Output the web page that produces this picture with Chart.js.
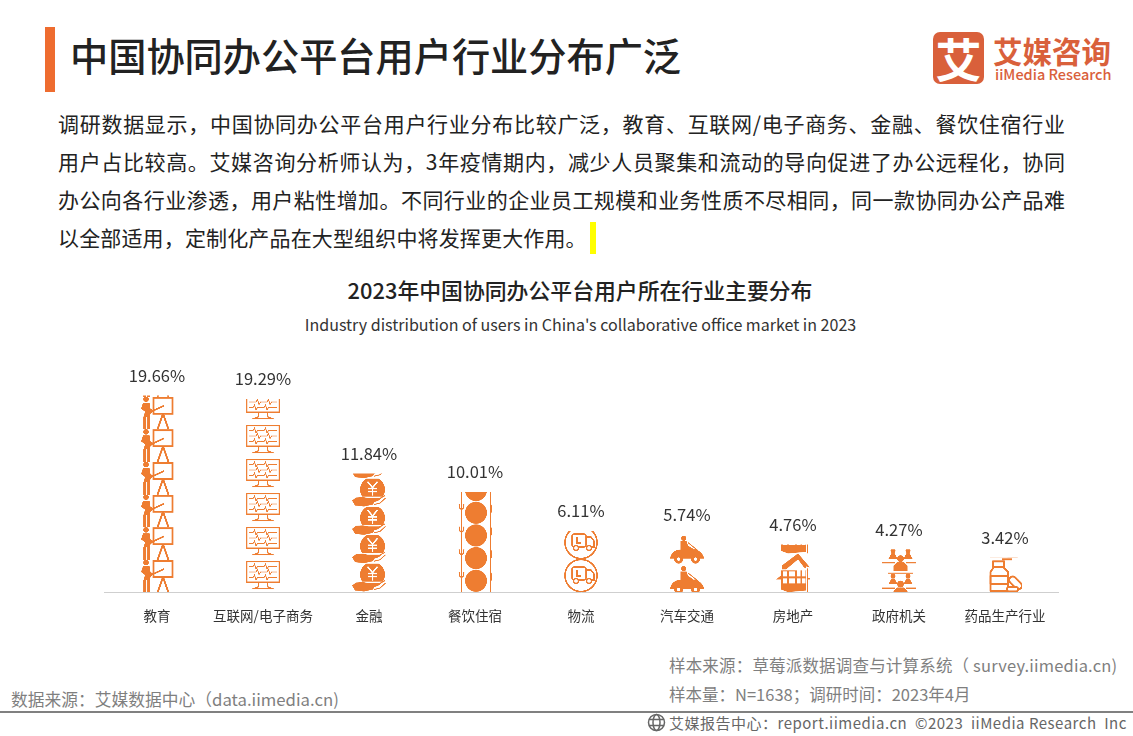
<!DOCTYPE html>
<html>
<head>
<meta charset="utf-8">
<title>中国协同办公平台用户行业分布广泛</title>
<script src="https://cdn.jsdelivr.net/npm/chart.js@4"></script>
<style>
  html, body { margin: 0; padding: 0; background: #fff; }
  body { width: 1133px; height: 736px; position: relative; overflow: hidden; font-family: "Noto Sans CJK SC", sans-serif; }
  .abs { position: absolute; white-space: nowrap; }
  .para { position: absolute; left: 58px; width: 1007px; font-size: 21px; line-height: 30px; color: #222; text-align: justify; text-align-last: justify; white-space: nowrap; }
  .foot { position: absolute; white-space: nowrap; color: #7f7f7f; font-size: 16px; line-height: 22px; }
  #chartBox { position: absolute; left: 0; top: 340px; width: 1133px; height: 300px; }
</style>
</head>
<body>
<div class="abs" style="left:70px;top:30px;font-size:38.2px;line-height:50px;font-weight:500;color:#222">中国协同办公平台用户行业分布广泛</div>
<div class="abs" style="left:45px;top:27px;width:10px;height:65px;background:#EE6C2F"></div>

<div class="abs" style="left:933px;top:32px;width:51px;height:52px;border-radius:7px;background:#D9603B;color:#fff;font-size:46px;line-height:50px;font-weight:700;text-align:center">艾</div>
<div class="abs" style="left:993px;top:30px;font-size:29.5px;line-height:40px;font-weight:700;color:#D9603B">艾媒咨询</div>
<div class="abs" style="left:995px;top:64px;font-size:14.5px;line-height:20px;font-weight:500;color:#D9603B">iiMedia Research</div>

<div class="para" style="top:108px">调研数据显示，中国协同办公平台用户行业分布比较广泛，教育、互联网/电子商务、金融、餐饮住宿行业</div>
<div class="para" style="top:146px">用户占比较高。艾媒咨询分析师认为，3年疫情期内，减少人员聚集和流动的导向促进了办公远程化，协同</div>
<div class="para" style="top:184px">办公向各行业渗透，用户粘性增加。不同行业的企业员工规模和业务性质不尽相同，同一款协同办公产品难</div>
<div class="para" style="top:222px;text-align-last:left;letter-spacing:0.15px">以全部适用，定制化产品在大型组织中将发挥更大作用。</div>
<div class="abs" style="left:590px;top:222px;width:6px;height:32px;background:#FFFF00"></div>

<div class="abs" style="left:0;width:1160px;top:275px;text-align:center;font-size:21.85px;line-height:30px;font-weight:500;color:#222">2023年中国协同办公平台用户所在行业主要分布</div>
<div class="abs" style="left:0;width:1161px;top:312px;text-align:center;font-size:16.05px;line-height:24px;color:#333">Industry distribution of users in China's collaborative office market in 2023</div>

<div id="chartBox"><canvas id="chart"></canvas></div>

<div class="foot" style="left:669px;top:654px;font-size:16.5px;letter-spacing:0.18px">样本来源：草莓派数据调查与计算系统（ survey.iimedia.cn)</div>
<div class="foot" style="left:669px;top:683px;font-size:16.5px">样本量：N=1638；调研时间：2023年4月</div>
<div class="foot" style="left:11px;top:688px;font-size:16.75px">数据来源：艾媒数据中心（data.iimedia.cn)</div>
<div class="abs" style="left:0;top:711px;width:1133px;height:2px;background:#808080"></div>
<svg class="abs" style="left:647px;top:713px" width="19" height="19" viewBox="0 0 19 19" fill="none" stroke="#666" stroke-width="1.5">
  <circle cx="9.5" cy="9.5" r="8"/><ellipse cx="9.5" cy="9.5" rx="3.5" ry="8"/><path d="M2 6.5h15M2 12.5h15"/>
</svg>
<div class="foot" style="left:669px;top:712px;font-size:15px;color:#666;letter-spacing:0.5px">艾媒报告中心：report.iimedia.cn&nbsp;&nbsp;©2023&nbsp;&nbsp;iiMedia Research&nbsp;&nbsp;Inc</div>

<script>
const categories = ['教育', '互联网/电子商务', '金融', '餐饮住宿', '物流', '汽车交通', '房地产', '政府机关', '药品生产行业'];
const shares = [19.66, 19.29, 11.84, 10.01, 6.11, 5.74, 4.76, 4.27, 3.42];
const iconNames = ['teach', 'monitor', 'money', 'dining', 'truck', 'car', 'house', 'office', 'medicine'];

const ORANGE = '#EE7D31';
const BAR_W = 34;

function line(c, pts) {
  c.beginPath();
  pts.forEach((p, i) => i ? c.lineTo(p[0], p[1]) : c.moveTo(p[0], p[1]));
  c.stroke();
}
function poly(c, pts) {
  c.beginPath();
  pts.forEach((p, i) => i ? c.lineTo(p[0], p[1]) : c.moveTo(p[0], p[1]));
  c.closePath();
  c.fill();
}
function dot(c, x, y, r) {
  c.beginPath();
  c.arc(x, y, r, 0, Math.PI * 2);
  c.fill();
}

// one tile of each pictogram: h = repeat height, up = how far its top sits above the axis
const icons = {
  teach: { h: 32.7, up: 32, draw(c) {
    dot(c, 6, 2.5, 2.8);
    c.lineWidth = 1.9;
    c.strokeRect(13.5, 1, 19, 16);
    line(c, [[23, 17], [17.5, 32.7]]);
    line(c, [[23, 17], [28.5, 32.7]]);
    c.lineWidth = 1.6;
    line(c, [[11, 15], [24, 9]]);
    poly(c, [[3, 6], [9.5, 6], [10.5, 12], [14, 14], [10.5, 17], [10, 20], [3.5, 20], [5, 15], [1, 12]]);
    c.fillRect(3.2, 20, 3, 12.7);
    c.fillRect(7.2, 20, 3, 12.7);
  } },
  monitor: { h: 34, up: 31, draw(c) {
    c.lineWidth = 1.2;
    c.strokeRect(0.8, 0.6, 32.4, 20.5);
    line(c, [[13, 21], [12, 26], [8, 27.5], [26, 27.5], [22, 26], [21, 21]]);
    c.lineWidth = 0.9;
    [5.5, 11, 16.5].forEach((y, row) => {
      const s = row % 2 ? 3 : 0;
      line(c, [[3, y], [7 + s, y], [8.5 + s, y - 2.5], [10 + s, y + 2.5], [11.5 + s, y], [18 + s, y], [19.5 + s, y - 2.5], [21 + s, y + 2.5], [22.5 + s, y], [31, y]]);
    });
  } },
  money: { h: 28.4, up: 28.4, draw(c) {
    dot(c, 20.5, 11, 12.5);
    c.fillStyle = '#fff';
    c.fillRect(0, 18, 34, 1.5);
    c.strokeStyle = '#fff';
    c.lineWidth = 1.5;
    line(c, [[15.5, 3], [20.5, 9], [25.5, 3]]);
    line(c, [[20.5, 9], [20.5, 17]]);
    line(c, [[16, 10], [25, 10]]);
    line(c, [[16, 13], [25, 13]]);
    c.fillStyle = ORANGE;
    c.strokeStyle = ORANGE;
    poly(c, [[0, 22], [4, 19], [11, 18.5], [18, 20], [23, 22], [21, 26], [12, 28], [3, 27]]);
    c.lineWidth = 1;
    line(c, [[23, 22.5], [33, 17]]);
    line(c, [[22, 26], [28, 24.5], [33.5, 19.5]]);
  } },
  dining: { h: 22.5, up: 22.5, draw(c) {
    dot(c, 18, 11.2, 11);
    c.lineWidth = 1;
    line(c, [[3.5, 0], [3.5, 22.5]]);
    c.lineWidth = 1.2;
    line(c, [[1.2, 2.5], [1.6, 6.5], [3.5, 8], [5.4, 6.5], [5.8, 2.5]]);
    line(c, [[3.5, 2.5], [3.5, 7]]);
    c.fillRect(32, 0, 1.2, 22.5);
    poly(c, [[33, 2], [34, 5], [34, 11], [33, 11]]);
  } },
  truck: { h: 33, up: 33, draw(c) {
    c.lineWidth = 1.6;
    c.beginPath();
    c.arc(17, 16.5, 16, 0, Math.PI * 2);
    c.stroke();
    c.lineWidth = 1.4;
    c.beginPath();
    c.roundRect(8, 8, 14, 13, 2);
    c.stroke();
    line(c, [[22, 11], [27, 11], [30, 15], [30, 21], [22, 21]]);
    line(c, [[13, 11], [13, 17], [17, 17]]);
    c.fillStyle = '#fff';
    [12, 25].forEach(x => {
      c.beginPath();
      c.arc(x, 22, 2.4, 0, Math.PI * 2);
      c.fill();
      c.stroke();
    });
  } },
  car: { h: 30.4, up: 26, draw(c) {
    dot(c, 13.7, 2.6, 2.6);
    poly(c, [[10.5, 5.5], [16.5, 5.5], [18, 10], [23, 13], [23, 15], [10.5, 15]]);
    c.lineWidth = 1;
    line(c, [[18, 7], [28, 15]]);
    c.beginPath();
    c.moveTo(0, 23);
    c.quadraticCurveTo(1, 16, 8, 14);
    c.lineTo(26, 13.5);
    c.quadraticCurveTo(33, 17, 34, 22.5);
    c.lineTo(34, 23);
    c.closePath();
    c.fill();
    [8.6, 25.5].forEach(x => {
      dot(c, x, 23.5, 4.5);
      c.fillStyle = '#fff';
      dot(c, x, 23.5, 1.7);
      c.fillStyle = ORANGE;
    });
  } },
  house: { h: 38.6, up: 38.6, draw(c) {
    // roof
    poly(c, [[22, 0], [34, 14], [30, 13], [30, 15], [28, 14], [22, 6], [10, 16], [6, 16], [6, 12]]);
    // walls
    c.fillRect(5, 17, 28, 15);
    poly(c, [[0, 26], [5, 22], [5, 26]]);
    poly(c, [[5, 31], [30, 31], [30, 37], [12, 38.6], [5, 36]]);
    c.fillStyle = '#fff';
    [[7, 18, 4, 5], [13, 18, 6, 5], [21, 15, 3.5, 8], [26, 15, 3.5, 8], [7, 25, 4, 5], [13, 25, 6, 5], [21, 25, 3.5, 5], [26, 25, 3.5, 5], [30, 17, 3, 21]].forEach(r => c.fillRect(r[0], r[1], r[2], r[3]));
    c.fillStyle = ORANGE;
    c.fillRect(31, 15, 1, 23.6);
    poly(c, [[33, 24], [35, 26], [31, 26]]);
  } },
  office: { h: 25.3, up: 21, draw(c) {
    c.fillRect(6, 1.6, 25, 1);
    [11, 26].forEach(x => {
      dot(c, x, 5, 2.5);
      poly(c, [[x - 1.5, 7.5], [x + 1.5, 7.5], [x + 4.5, 13], [x - 4.5, 13]]);
    });
    dot(c, 18.5, 13, 3.4);
    poly(c, [[15, 16.5], [22, 16.5], [25.5, 20], [25.5, 25.3], [11.5, 25.3], [11.5, 20]]);
    c.fillRect(0, 16.5, 13, 1.2);
    c.fillRect(24, 16.5, 10, 1.2);
  } },
  medicine: { h: 34.2, up: 34.2, draw(c) {
    c.lineWidth = 1.9;
    c.lineJoin = 'round';
    c.strokeRect(5, 3.5, 11, 5.5);
    line(c, [[14, 1.5], [24, 1.5]]);
    c.beginPath();
    c.moveTo(6, 9);
    c.lineTo(2.5, 14);
    c.lineTo(2.5, 33);
    c.lineTo(20, 33);
    c.lineTo(20, 14);
    c.lineTo(15, 9);
    c.stroke();
    c.strokeRect(2.5, 18, 17.5, 8);
    c.save();
    c.translate(27.5, 25);
    c.rotate(Math.PI / 4);
    c.beginPath();
    c.roundRect(-7.5, -3.5, 15, 7, 3.5);
    c.stroke();
    c.restore();
    c.beginPath();
    c.roundRect(19, 29, 11, 4.5, 2);
    c.fillStyle = '#fff';
    c.fill();
    c.stroke();
  } }
};

const TILE_SCALE = 3;
function tilePattern(chart, name, left, base) {
  const icon = icons[name];
  const off = document.createElement('canvas');
  off.width = BAR_W * TILE_SCALE;
  off.height = Math.round(icon.h * TILE_SCALE);
  const c = off.getContext('2d');
  c.scale(TILE_SCALE, off.height / icon.h);
  c.fillStyle = ORANGE;
  c.strokeStyle = ORANGE;
  icon.draw(c);
  const pattern = chart.ctx.createPattern(off, 'repeat');
  pattern.setTransform(new DOMMatrix().translate(left, base - icon.up).scale(1 / TILE_SCALE));
  return pattern;
}

const valueLabels = {
  id: 'valueLabels',
  afterDatasetsDraw(chart) {
    const c = chart.ctx;
    c.save();
    c.font = '16.5px "Noto Sans CJK SC"';
    c.fillStyle = '#333';
    c.textAlign = 'center';
    c.textBaseline = 'middle';
    chart.getDatasetMeta(0).data.forEach((bar, i) => {
      c.fillText(shares[i].toFixed(2) + '%', bar.x, bar.y - 20);
    });
    c.restore();
  }
};

new Chart(document.getElementById('chart'), {
  type: 'bar',
  data: {
    labels: categories,
    datasets: [{
      data: shares,
      barThickness: BAR_W,
      borderWidth: 0,
      inflateAmount: 0,
      backgroundColor(ctx) {
        const chart = ctx.chart;
        if (!chart.scales.x || ctx.dataIndex === undefined) return ORANGE;
        const x = chart.scales.x.getPixelForValue(ctx.dataIndex);
        return tilePattern(chart, iconNames[ctx.dataIndex], x - BAR_W / 2, chart.scales.y.getPixelForValue(0));
      }
    }]
  },
  options: {
    responsive: true,
    maintainAspectRatio: false,
    animation: false,
    events: [],
    layout: { padding: { left: 104, right: 75, top: 52, bottom: 0 } },
    plugins: { legend: { display: false }, tooltip: { enabled: false } },
    scales: {
      x: {
        grid: { display: false },
        border: { color: '#cfcfcf', width: 1 },
        ticks: { color: '#333', font: { size: 13.5, family: '"Noto Sans CJK SC"' }, padding: 8, maxRotation: 0, autoSkip: false },
        afterFit(scale) { scale.height = 48; }
      },
      y: { display: false, min: 0, max: 20 }
    }
  },
  plugins: [valueLabels]
});
</script>
</body>
</html>
